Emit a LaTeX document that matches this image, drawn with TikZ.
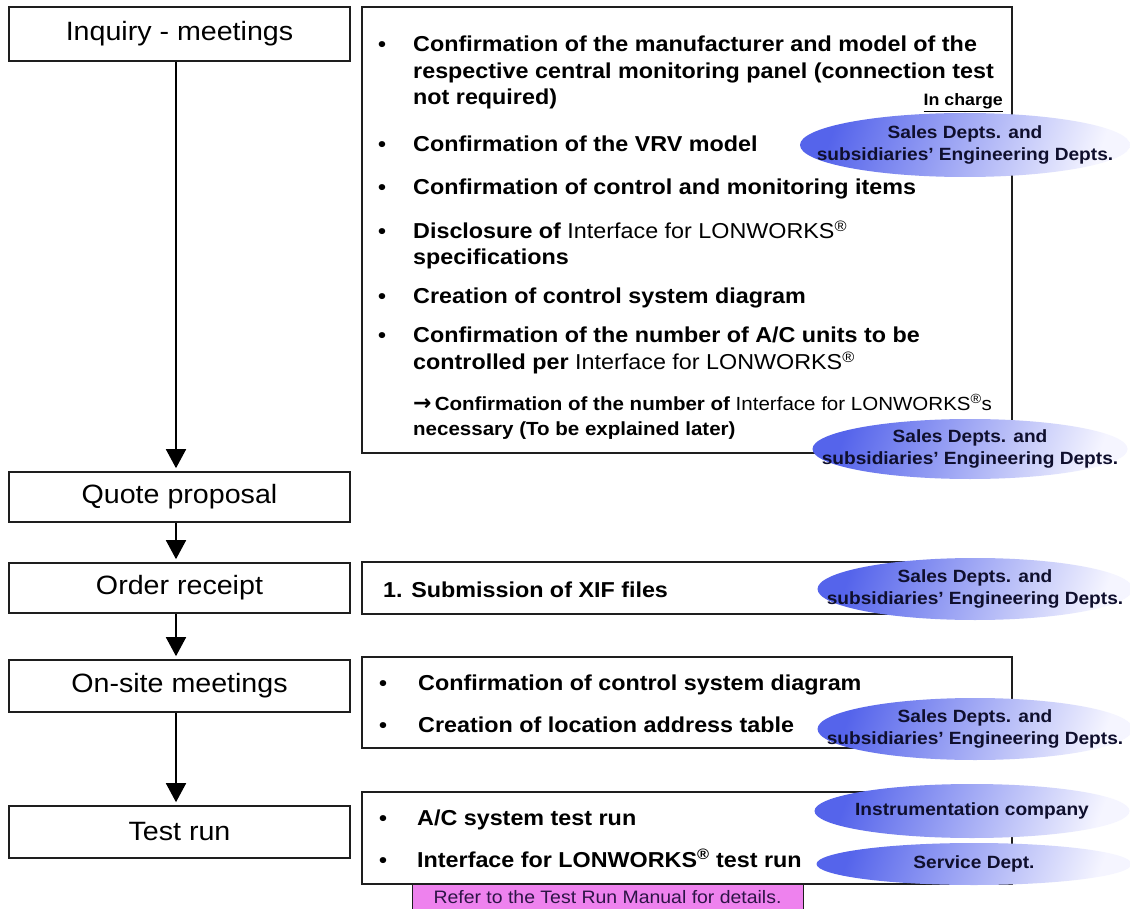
\documentclass[tikz,border=0pt]{standalone}
\usepackage{fontspec}
\setmainfont[FakeStretch=1.08]{Liberation Sans}
\newfontfamily\arrowfont{DejaVu Sans}
\usetikzlibrary{arrows.meta,shapes.geometric}
\definecolor{boxline}{RGB}{30,30,30}
\definecolor{ellblue}{RGB}{85,100,235}
\definecolor{ellwhite}{RGB}{245,245,255}
\definecolor{navytext}{RGB}{15,15,45}
\definecolor{pinkfill}{RGB}{238,130,238}
\definecolor{pinktext}{RGB}{45,20,70}
\tikzset{
  stagebox/.style={draw=boxline, line width=1.6pt, minimum width=341pt, inner sep=0pt,
    font=\fontsize{26.5}{30}\selectfont},
  infobox/.style={draw=boxline, line width=1.6pt, inner sep=0pt, fill=white},
  item/.style={anchor=base west, inner sep=0pt, font=\fontsize{21.6}{25}\selectfont\bfseries},
  subitem/.style={anchor=base west, inner sep=0pt, font=\fontsize{19}{22}\selectfont\bfseries},
  bul/.style={anchor=base, inner sep=0pt, font=\fontsize{21}{25}\selectfont\bfseries},
  flow/.style={draw=black, line width=1.6pt, -{Triangle[length=19pt,width=20pt]}, shorten >=3pt},
  whoell/.style={ellipse, inner sep=0pt, left color=ellblue, right color=ellwhite, shading angle=70},
  whotext/.style={inner sep=0pt, align=center, text=navytext, font=\fontsize{17.7}{22.5}\selectfont\bfseries},
}
\newcommand{\ifl}{{\mdseries Interface for LONWORKS\textsuperscript{\textregistered}}}
\begin{document}
\begin{tikzpicture}[x=1pt,y=-1pt]
\useasboundingbox (0,0) rectangle (1130,909);
\clip (0,0) rectangle (1130,909);
\fill[white] (0,0) rectangle (1130,909);

% stage boxes
\node[stagebox, minimum height=54pt] (inq) at (179.5,34) {Inquiry - meetings};
\node[stagebox, minimum height=50pt] (quote) at (179.5,497) {Quote proposal};
\node[stagebox, minimum height=50pt] (order) at (179.5,588) {Order receipt};
\node[stagebox, minimum height=52pt] (onsite) at (179.5,686) {On-site meetings};
\node[stagebox, minimum height=52pt] (test) at (179.5,832) {Test run};

\coordinate (ax) at (176,0);
\draw[flow] (inq.south -| ax) -- (quote.north -| ax);
\draw[flow] (quote.south -| ax) -- (order.north -| ax);
\draw[flow] (order.south -| ax) -- (onsite.north -| ax);
\draw[flow] (onsite.south -| ax) -- (test.north -| ax);

% info boxes
\node[infobox, minimum width=650pt, minimum height=446pt] (r1) at (687,230) {};
\node[infobox, minimum width=650pt, minimum height=52pt] (r2) at (687,588) {};
\node[infobox, minimum width=650pt, minimum height=91pt] (r3) at (687,702.5) {};
\node[infobox, minimum width=650pt, minimum height=92pt] (r4) at (687,838) {};

% box 1 texts
\node[bul] (b1) at (382,52) {•};
\node[item] (t1a) at (413,52) {Confirmation of the manufacturer and model of the};
\node[item] (t1b) at (413,79) {respective central monitoring panel (connection test};
\node[item] (t1c) at (413,105) {not required)};
\node[anchor=base east, inner sep=0pt, font=\fontsize{16.5}{20}\selectfont\bfseries] (inch) at (1003,106) {\underline{In charge}};
\node[bul] (b2) at (382,152) {•};
\node[item] (t2) at (413,152) {Confirmation of the VRV model};
\node[bul] (b3) at (382,195) {•};
\node[item] (t3) at (413,195) {Confirmation of control and monitoring items};
\node[bul] (b4) at (382,239) {•};
\node[item] (t4a) at (413,239) {Disclosure of \ifl};
\node[item] (t4b) at (413,265) {specifications};
\node[bul] (b5) at (382,304) {•};
\node[item] (t5) at (413,304) {Creation of control system diagram};
\node[bul] (b6) at (382,343) {•};
\node[item] (t6a) at (413,343) {Confirmation of the number of A/C units to be};
\node[item] (t6b) at (413,370) {controlled per \ifl};
\node[subitem] (t7a) at (413,410) {{\arrowfont\bfseries\fontsize{22}{22}\selectfont →}\,Confirmation of the number of \ifl{\mdseries s}};
\node[subitem] (t7b) at (413,435) {necessary (To be explained later)};

% box 2
\node[item] (t8) at (383,597) {1. Submission of XIF files};

% box 3
\node[bul] (b9) at (383,690) {•};
\node[item] (t9) at (418,690) {Confirmation of control system diagram};
\node[bul] (b10) at (383,732) {•};
\node[item] (t10) at (418,732) {Creation of location address table};

% box 4
\node[bul] (b11) at (383,825) {•};
\node[item] (t11) at (417,825) {A/C system test run};
\node[bul] (b12) at (383,867) {•};
\node[item] (t12) at (417,867) {Interface for LONWORKS\textsuperscript{\textregistered} test run};

% pink note
\node[draw=boxline, line width=1pt, fill=pinkfill, minimum width=391pt, minimum height=30pt, inner sep=0pt,
  text=pinktext, font=\fontsize{18}{20}\selectfont] (note) at (607.5,899) {\raisebox{5pt}{Refer to the Test Run Manual for details.}};

% responsibility ellipses
\node[whoell, minimum width=330pt, minimum height=64pt] (e1) at (965,145) {};
\node[whotext] (e1t) at (e1) {Sales Depts. and\\subsidiaries' Engineering Depts.};
\node[whoell, minimum width=315pt, minimum height=60pt] (e2) at (970,449) {};
\node[whotext] (e2t) at (e2) {Sales Depts. and\\subsidiaries' Engineering Depts.};
\node[whoell, minimum width=315pt, minimum height=62pt] (e3) at (975,589) {};
\node[whotext] (e3t) at (e3) {Sales Depts. and\\subsidiaries' Engineering Depts.};
\node[whoell, minimum width=315pt, minimum height=62pt] (e4) at (975,729) {};
\node[whotext] (e4t) at (e4) {Sales Depts. and\\subsidiaries' Engineering Depts.};
\node[whoell, minimum width=315pt, minimum height=54pt] (e5) at (972,811) {};
\node[whotext] (e5t) at (e5) {Instrumentation company};
\node[whoell, minimum width=315pt, minimum height=42pt] (e6) at (974,864) {};
\node[whotext] (e6t) at (e6) {Service Dept.};
\end{tikzpicture}
\end{document}
